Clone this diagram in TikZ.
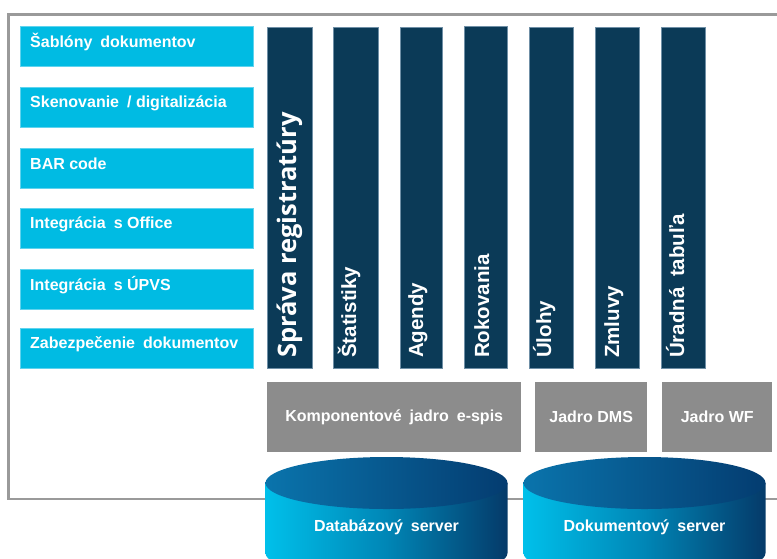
\documentclass[tikz,border=0pt]{standalone}
\usepackage{fontspec}
\setmainfont{Liberation Sans}
\newfontfamily\osans{Open Sans}
\definecolor{cyanC}{HTML}{00BBE3}
\definecolor{cyanEdge}{HTML}{5FD3EE}
\definecolor{navy}{HTML}{0B3A57}
\definecolor{navyEdge}{HTML}{6F8FA6}
\definecolor{grayC}{HTML}{8C8C8C}
\definecolor{frameC}{HTML}{9A9A9A}
\definecolor{cylL}{HTML}{00C0EA}
\definecolor{cylM}{HTML}{0086B6}
\definecolor{cylR}{HTML}{053A69}
\definecolor{topL}{HTML}{0A74AC}
\definecolor{topR}{HTML}{043C70}
\newcommand{\dsp}{\hspace{0.5em}}
\tikzset{
  cbox/.style={fill=cyanC, draw=cyanEdge, line width=0.5pt, minimum width=233pt, minimum height=40pt, inner sep=0pt, anchor=north west},
  ctext/.style={text=white, font=\bfseries\fontsize{16}{18}\selectfont, anchor=west, inner sep=0pt},
  barbox/.style={fill=navy, draw=navyEdge, line width=0.5pt, minimum height=341pt, inner sep=0pt, anchor=north west},
  bartext/.style={text=white, font=\bfseries\fontsize{20.5}{22}\selectfont, rotate=90, anchor=base west, inner sep=0pt},
  gbox/.style={fill=grayC, minimum height=70pt, inner sep=0pt, anchor=north west},
  gtext/.style={text=white, font=\bfseries\fontsize{16}{18}\selectfont, inner sep=0pt},
}
\begin{document}
\begin{tikzpicture}[x=1pt,y=-1pt]
\useasboundingbox (0,0) rectangle (777,558);
\clip (0,0) rectangle (777,558);
% outer frame
\draw[frameC, line width=2.8pt] (8.7,14.7) rectangle (820,499);
% left cyan boxes
\foreach \n/\y/\t in {1/26/{Šablóny\dsp dokumentov},2/87/{Skenovanie\dsp / digitalizácia},3/148/{BAR code},4/208/{Integrácia\dsp s Office},5/269/{Integrácia\dsp s ÚPVS},6/328/{Zabezpečenie\dsp dokumentov}}{
  \node[cbox] (c\n) at (20,\y) {};
  \node[ctext] (ct\n) at ([xshift=10pt,yshift=4pt]c\n.west) {\t};
}
% dark bars
\node[barbox, minimum width=45pt] (b1) at (267,27) {};
\node[barbox, minimum width=45pt] (b2) at (333,27) {};
\node[barbox, minimum width=42pt] (b3) at (400,27) {};
\node[barbox, minimum width=43pt, minimum height=342pt] (b4) at (464,26) {};
\node[barbox, minimum width=44pt] (b5) at (529,27) {};
\node[barbox, minimum width=44pt] (b6) at (595,27) {};
\node[barbox, minimum width=44pt] (b7) at (661,27) {};
\node[bartext, font=\osans\bfseries\fontsize{25.5}{28}\selectfont] (t1) at (296,358) {Správa registratúry};
\node[bartext] (t2) at (356,358) {Štatistiky};
\node[bartext] (t3) at (423,358) {Agendy};
\node[bartext] (t4) at (489,358) {Rokovania};
\node[bartext] (t5) at (551,358) {Úlohy};
\node[bartext] (t6) at (619,358) {Zmluvy};
\node[bartext] (t7) at (684,358) {Úradná\dsp tabuľa};
% gray core boxes
\node[gbox, minimum width=254pt] (g1) at (267,382) {};
\node[gbox, minimum width=112pt] (g2) at (535,382) {};
\node[gbox, minimum width=110pt] (g3) at (662,382) {};
\node[gtext] (gt1) at (g1.center) {Komponentové\dsp jadro\dsp e-spis};
\node[gtext] (gt2) at (g2.center) {Jadro DMS};
\node[gtext] (gt3) at (g3.center) {Jadro WF};
% cylinders
\foreach \cx/\k in {386.5/1,644.5/2}{
  \shade[left color=cylL, right color=cylR, middle color=cylM]
    (\cx-121,483) -- (\cx-121,553) arc[start angle=180, end angle=0, x radius=121, y radius=26] -- (\cx+121,483) -- cycle;
  \shade[left color=topL, right color=topR] (\cx,483) ellipse [x radius=121, y radius=26];
}
\node[gtext] (d1) at (386.5,527) {Databázový\dsp server};
\node[gtext] (d2) at (644.5,527) {Dokumentový\dsp server};
\end{tikzpicture}
\end{document}
